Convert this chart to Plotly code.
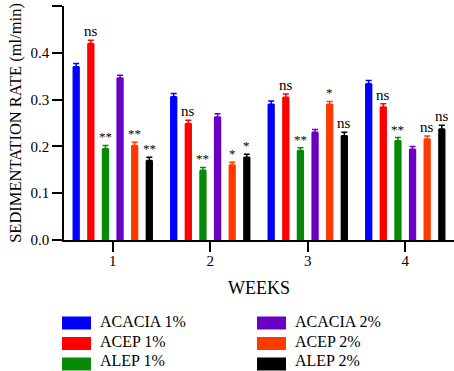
import plotly.graph_objects as go

weeks = [1, 2, 3, 4]
series_names = ["ACACIA 1%", "ACEP 1%", "ALEP 1%", "ACACIA 2%", "ACEP 2%", "ALEP 2%"]
acacia1 = [0.370, 0.306, 0.290, 0.334]
acep1 = [0.420, 0.249, 0.305, 0.284]
alep1 = [0.195, 0.149, 0.191, 0.212]
acacia2 = [0.346, 0.263, 0.230, 0.194]
acep2 = [0.202, 0.160, 0.290, 0.216]
alep2 = [0.170, 0.177, 0.223, 0.237]
acacia1_err = [0.007, 0.007, 0.007, 0.007]
acep1_err = [0.007, 0.007, 0.007, 0.007]
alep1_err = [0.007, 0.006, 0.006, 0.007]
acacia2_err = [0.006, 0.007, 0.006, 0.006]
acep2_err = [0.007, 0.006, 0.006, 0.006]
alep2_err = [0.007, 0.006, 0.007, 0.008]
# significance labels per week
sig_acep1 = ["ns", "ns", "ns", "ns"]
sig_alep1 = ["**", "**", "**", "**"]
sig_acep2 = ["**", "*", "*", "ns"]
sig_alep2 = ["**", "*", "ns", "ns"]

values = [acacia1, acep1, alep1, acacia2, acep2, alep2]
errors = [acacia1_err, acep1_err, alep1_err, acacia2_err, acep2_err, alep2_err]
colors = ["#0000FF", "#FF0000", "#078A07", "#6A00C4", "#FF3A00", "#000000"]
sig = {1: sig_acep1, 2: sig_alep1, 4: sig_acep2, 5: sig_alep2}

FONT = "Liberation Serif"
W, H = 454, 371
ML, MR, MT, MB = 64, 0, 6, 131
PW, PH = W - ML - MR, H - MT - MB

fig = go.Figure()
for i, (name, vals, errs, c) in enumerate(zip(series_names, values, errors, colors)):
    fig.add_trace(go.Bar(
        x=weeks, y=vals, name=name, marker=dict(color=c, line=dict(width=0)),
        error_y=dict(type="data", array=errs, arrayminus=[0] * len(errs), symmetric=False,
                     color=c, thickness=1.5, width=3),
        showlegend=False,
    ))

n = len(series_names)
bargap = 0.1
slot = (1 - bargap) / n
for i, labels in sig.items():
    for w, v, e, lab in zip(weeks, values[i], errors[i], labels):
        fig.add_annotation(
            x=w + (i - (n - 1) / 2) * slot, y=v + e, text=lab, showarrow=False,
            yanchor="bottom", xanchor="center", yshift=-1,
            font=dict(family=FONT, size=15 if lab == "ns" else 13, color="black"),
        )

# legend drawn as swatches + text, two columns
def px_to_paper_x(px):
    return (px - ML) / PW

def px_to_paper_y(py):
    return (H - MB - py) / PH

legend_cols = [62, 257]
swatch_rows = [323, 343.5, 364]
text_rows = [321, 341, 360.5]
for i, (name, c) in enumerate(zip(series_names, colors)):
    col, row = divmod(i, 3)
    lx = legend_cols[col]
    sy, ty = swatch_rows[row], text_rows[row]
    fig.add_shape(type="rect", xref="paper", yref="paper",
                  x0=px_to_paper_x(lx), x1=px_to_paper_x(lx + 29),
                  y0=px_to_paper_y(sy + 6.5), y1=px_to_paper_y(sy - 6.5),
                  fillcolor=c, line=dict(width=0))
    fig.add_annotation(xref="paper", yref="paper", x=px_to_paper_x(lx + 37),
                       y=px_to_paper_y(ty), text=name, showarrow=False,
                       xanchor="left", yanchor="middle", borderpad=0,
                       font=dict(family=FONT, size=16, color="black"))

fig.update_layout(
    width=W, height=H,
    margin=dict(l=ML, r=MR, t=MT, b=MB),
    barmode="group", bargap=bargap, bargroupgap=0.5,
    plot_bgcolor="white", paper_bgcolor="white",
    showlegend=False,
    font=dict(family=FONT, size=15, color="black"),
    xaxis=dict(range=[0.5, 4.5], tickvals=weeks, ticktext=[str(w) for w in weeks],
               showline=True, linecolor="black", linewidth=1.5, ticks="outside",
               ticklen=10, tickwidth=1.5, tickcolor="black", showgrid=False, zeroline=False,
               ticklabelstandoff=-4,
               automargin=False, title=dict(text="WEEKS", standoff=14)),
    yaxis=dict(range=[0, 0.5], dtick=0.1, tickformat=".1f",
               showline=True, linecolor="black", linewidth=1.5, ticks="outside",
               ticklen=10, tickwidth=1.5, tickcolor="black", showgrid=False, zeroline=False,
               automargin=False,
               title=dict(text="SEDIMENTATION RATE (ml/min)", standoff=5,
                          font=dict(size=16.5))),
)

fig.write_html("out.html", config={"displayModeBar": False},
               post_script="document.body.style.margin='0';")
